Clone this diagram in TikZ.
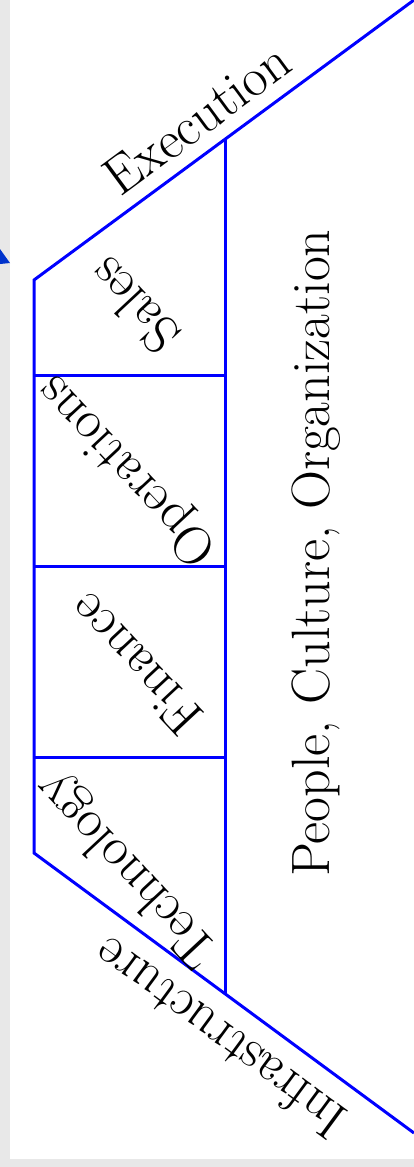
\documentclass[tikz,border=0pt]{standalone}
\usepackage{fontspec}
\usepackage{xcolor}
\usetikzlibrary{calc}
\tikzstyle{word} = [font=\fontsize{54}{64}\selectfont, inner sep=0pt]
\tikzset{frame/.style={draw=frame edge, line width=3pt},
    pillar/.style={word, rotate=133}}

\begin{document}
\begin{tikzpicture}[x=1pt, y=-1pt]
    % Definition of colours
    \colorlet{frame edge}{blue}
    \colorlet{page back}{black!9}
    \colorlet{tip blue}{blue!75!cyan!80!black}
    %
    \fill[page back] (0,0) rectangle (414,1167);
    \fill[white] (10,0) rectangle (414,1159);
    \useasboundingbox (0,0) rectangle (414,1167);
    \fill[tip blue] (0,249) -- (10,263) -- (0,264) -- cycle;
    %
    \coordinate (tr) at (414,0);
    \coordinate (tl) at (34,280);
    \coordinate (bl) at (34,853);
    \coordinate (br) at (414,1133);
    \coordinate (mt) at ($(tl)!192/380!(tr)$);
    \coordinate (mb) at ($(bl)!192/380!(br)$);
    \draw[frame, line join=miter] (tr) -- (tl) -- (bl) -- (br);
    \draw[frame] (mt) -- (mb);
    \foreach \y in {375,566,757}
        \draw[frame] (34,\y) -- (226,\y);
    %
    \node[word, rotate=36.4] (exec) at (197,119) {Execution};
    \node[word, rotate=143.6] (infra) at (219,1039) {Infrastructure};
    \node[pillar] (sales) at (133,306) {Sales};
    \node[pillar] (ops) at (128,470) {Operations};
    \node[pillar] (fin) at (135,665) {Finance};
    \node[pillar] (tech) at (128,868) {Technology};
    \node[word, rotate=90] (people) at (316,553) {People, Culture, Organization};
\end{tikzpicture}
\end{document}
